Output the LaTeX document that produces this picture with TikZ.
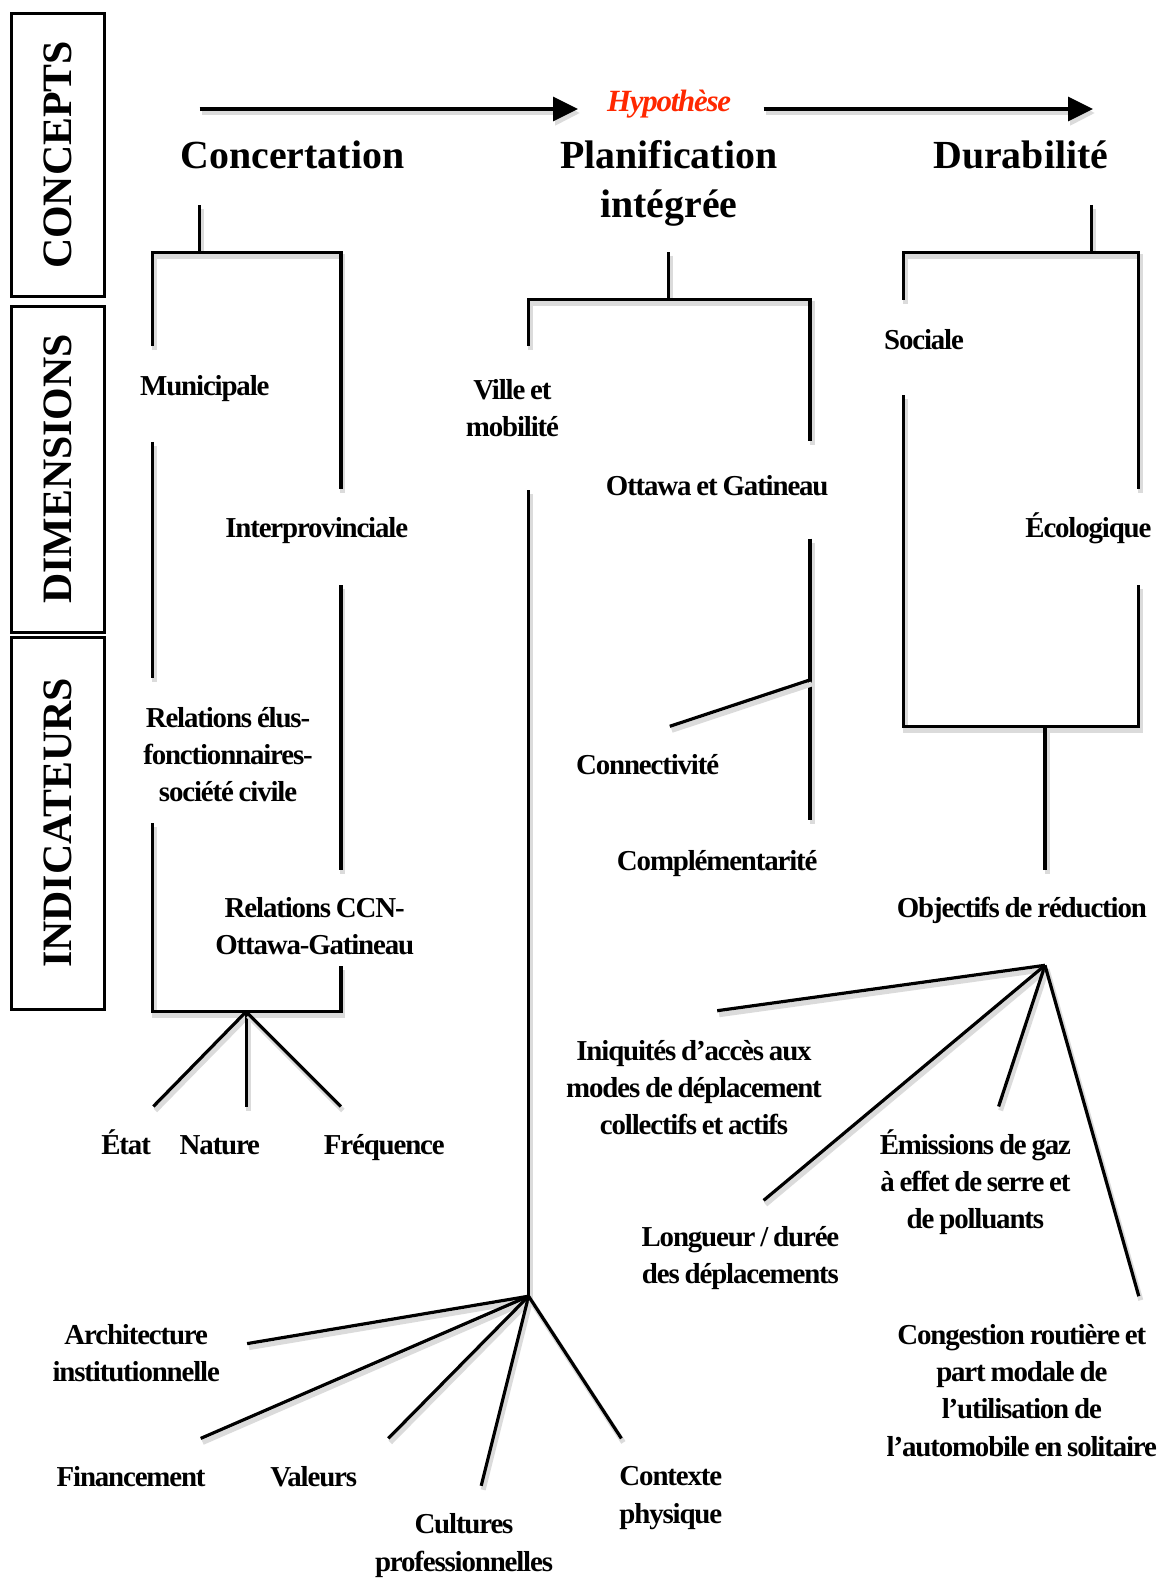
\documentclass[tikz,border=0pt]{standalone}
\usepackage{fontspec}
\setmainfont{Liberation Serif}
\newfontfamily\lblfont{Liberation Serif}[LetterSpace=-4,WordSpace=0.8]
\usetikzlibrary{arrows.meta}
\definecolor{hypred}{RGB}{255,40,0}
\begin{document}
\begin{tikzpicture}[x=1bp,y=-1bp,
  ln/.style={line width=3.2bp, preaction={draw=black!14, line width=5bp, transform canvas={shift={(2bp,-4bp)}}}},
  arr/.style={ln, -{Triangle[length=25bp,width=24bp]}},
  lbl/.style={font=\lblfont\fontsize{29}{37.3}\selectfont\bfseries, align=center, inner sep=0pt},
  one/.style={lbl, text height=20bp, text depth=6bp},
  ttl/.style={font=\fontsize{40}{49.4}\selectfont\bfseries, align=center, inner sep=0pt},
  sidebox/.style={draw, line width=3bp, rotate=90, minimum height=92bp, inner sep=0pt,
     font=\fontsize{42}{44}\selectfont\bfseries},
  hyp/.style={font=\lblfont\fontsize{31}{32}\selectfont\bfseries\itshape, text=hypred, inner sep=0pt,
     text height=21bp, text depth=7bp}]
\useasboundingbox (0,0) rectangle (1162,1581);

% side boxes
\node[sidebox, minimum width=282bp] (bconc) at (58,155) {CONCEPTS};
\node[sidebox, minimum width=326bp] (bdim) at (58,469) {DIMENSIONS};
\node[sidebox, minimum width=372bp] (bind) at (58,823) {INDICATEURS};

% titles
\node[ttl] (conc) at (292.5,154.5) {Concertation};
\node[ttl] (plan) at (668.8,183) {Planification\\intégrée};
\node[ttl] (dura) at (1020.8,154.5) {Durabilité};
\node[hyp] (hyp) at (669,105) {Hypothèse};

% top arrows
\coordinate (a1s) at (199.7,109);
\coordinate (a1e) at (578,109);
\coordinate (a2s) at (763.6,109);
\coordinate (a2e) at (1093,109);
\draw[arr] (a1s) -- (a1e);
\draw[arr] (a2s) -- (a2e);

% ---------------- Concertation tree
\coordinate (c0) at (199.7,205);
\coordinate (c1) at (199.7,252.2);
\coordinate (cL) at (152.3,252.2);
\coordinate (cR) at (340.9,252.2);
\coordinate (cL1) at (152.3,346);
\coordinate (cR1) at (340.9,489.2);
\coordinate (cL2) at (152.3,441.8);
\coordinate (cL3) at (152.3,677.8);
\coordinate (cR2) at (340.9,585);
\coordinate (cR3) at (340.9,869.5);
\coordinate (cL4) at (152.3,823.1);
\coordinate (cBL) at (152.3,1011.7);
\coordinate (cBR) at (340.9,1011.7);
\coordinate (cR4) at (340.9,966.3);
\coordinate (cf) at (246.1,1011.7);
\coordinate (cf1) at (153.3,1106.5);
\coordinate (cf2) at (246.1,1106.5);
\coordinate (cf3) at (340.9,1106.5);
\draw[ln] (c0) -- (c1);
\draw[ln] (cL1) -- (cL) -- (cR) -- (cR1);
\draw[ln] (cL2) -- (cL3);
\draw[ln] (cR2) -- (cR3);
\draw[ln] (cL4) -- (cBL) -- (cBR) -- (cR4);
\draw[ln] (cf) -- (cf1);
\draw[ln] (cf) -- (cf2);
\draw[ln] (cf) -- (cf3);

\node[one] (mun) at (204.8,388) {Municipale};
\node[one] (inter) at (316.7,530) {Interprovinciale};
\node[lbl] (elus) at (228,754.5) {Relations élus-\\fonctionnaires-\\société civile};
\node[lbl] (ccn) at (314.7,926.5) {Relations CCN-\\Ottawa-Gatineau};
\node[one] (etat) at (126.1,1147) {État};
\node[one] (nature) at (219.9,1147) {Nature};
\node[one] (freq) at (384.3,1147) {Fréquence};

% ---------------- Planification tree
\coordinate (p0) at (668.8,252.2);
\coordinate (p1) at (668.8,299.6);
\coordinate (pL) at (528.6,299.6);
\coordinate (pR) at (810,299.6);
\coordinate (pL1) at (528.6,346);
\coordinate (pR1) at (810,440.8);
\coordinate (pL2) at (528.6,490.2);
\coordinate (pf) at (528.6,1296.2);
\coordinate (pR2) at (810,538.6);
\coordinate (pR3) at (810,820.1);
\coordinate (pb) at (810,679.9);
\coordinate (pb1) at (669.8,726.3);
\coordinate (pf1) at (247.1,1343.6);
\coordinate (pf2) at (200.7,1438.4);
\coordinate (pf3) at (388.3,1438.4);
\coordinate (pf4) at (481.2,1485.8);
\coordinate (pf5) at (621.4,1438.4);
\draw[ln] (p0) -- (p1);
\draw[ln] (pL1) -- (pL) -- (pR) -- (pR1);
\draw[ln] (pL2) -- (pf);
\draw[ln] (pR2) -- (pR3);
\draw[ln] (pb) -- (pb1);
\draw[ln] (pf) -- (pf1);
\draw[ln] (pf) -- (pf2);
\draw[ln] (pf) -- (pf3);
\draw[ln] (pf) -- (pf4);
\draw[ln] (pf) -- (pf5);

\node[lbl] (ville) at (512.4,408) {Ville et\\mobilité};
\node[one] (ottg) at (717.2,488) {Ottawa et Gatineau};
\node[one] (conn) at (647.6,767.5) {Connectivité};
\node[one] (compl) at (717.2,863) {Complémentarité};
\node[lbl] (archi) at (136.2,1353) {Architecture\\institutionnelle};
\node[one] (fin) at (131.1,1479) {Financement};
\node[one] (val) at (313.7,1479) {Valeurs};
\node[lbl] (cult) at (464,1545.5) {Cultures\\professionnelles};
\node[lbl] (ctx) at (670.8,1498) {Contexte\\physique};

% ---------------- Durabilite tree
\coordinate (d0) at (1091.4,204.8);
\coordinate (d1) at (1091.4,252.2);
\coordinate (dL) at (903.8,252.2);
\coordinate (dR) at (1138.8,252.2);
\coordinate (dL1) at (903.8,299.6);
\coordinate (dR1) at (1138.8,489.2);
\coordinate (dL2) at (903.8,395.4);
\coordinate (dBL) at (903.8,726.3);
\coordinate (dBR) at (1138.8,726.3);
\coordinate (dR2) at (1138.8,585);
\coordinate (dm0) at (1045,726.3);
\coordinate (dm1) at (1045,869.5);
\coordinate (df) at (1045,965.3);
\coordinate (df1) at (717.2,1010.7);
\coordinate (df2) at (763.6,1200.4);
\coordinate (df3) at (998.6,1106.5);
\coordinate (df4) at (1138.8,1296.2);
\draw[ln] (d0) -- (d1);
\draw[ln] (dL1) -- (dL) -- (dR) -- (dR1);
\draw[ln] (dL2) -- (dBL) -- (dBR) -- (dR2);
\draw[ln] (dm0) -- (dm1);
\draw[ln] (df) -- (df1);
\draw[ln] (df) -- (df2);
\draw[ln] (df) -- (df3);
\draw[ln] (df) -- (df4);

\node[one] (soc) at (924,342) {Sociale};
\node[one] (eco) at (1088.4,530) {Écologique};
\node[one] (obj) at (1021.8,910.5) {Objectifs de réduction};
\node[lbl] (iniq) at (694,1087.4) {Iniquités d’accès aux\\modes de déplacement\\collectifs et actifs};
\node[lbl] (emis) at (975.4,1182.2) {Émissions de gaz\\à effet de serre et\\de polluants};
\node[lbl] (long) at (740.4,1258.3) {Longueur / durée\\des déplacements};
\node[lbl] (cong) at (1021.8,1390.5) {Congestion routière et\\part modale de\\l’utilisation de\\l’automobile en solitaire};
\end{tikzpicture}
\end{document}
